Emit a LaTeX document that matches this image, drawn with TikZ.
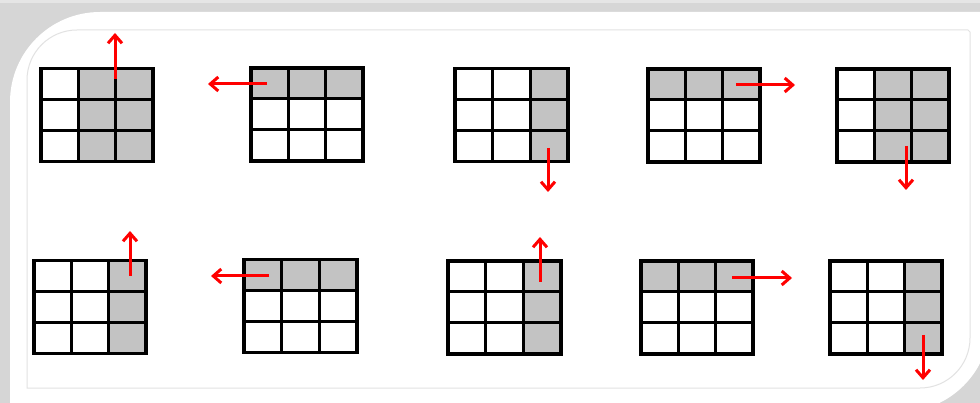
\documentclass[tikz,border=0pt]{standalone}
\usepackage{xcolor}
\usepackage{tikz}
\usetikzlibrary{
  arrows.meta,
  calc
}

\definecolor{cellgrey}{RGB}{195,195,195}
\definecolor{shadowgrey}{RGB}{214,214,214}
\definecolor{shadowlight}{RGB}{229,229,229}
\definecolor{frameline}{RGB}{226,226,226}

% 3x3 grid: name, centre, grey cells (col/row)
\newcommand{\cellgrid}[3]{%
  \coordinate (#1) at (#2);
  \foreach \ci/\ri in {#3}
    \fill[cellfill] ($(#1)+(\ci*37.5-93.75,\ri*31-77.5)$) rectangle +(37.5,31);
  \foreach \k in {1,2}{
    \draw[gridline] ($(#1)+(\k*37.5-56.25,-46.5)$) -- +(0,93);
    \draw[gridline] ($(#1)+(-56.25,\k*31-46.5)$) -- +(112.5,0);
  }
  \node[gridbox] (#1box) at (#1) {};
}

\begin{document}
\begin{tikzpicture}[
  x=1pt, y=-1pt,
  gridbox/.style={
    rectangle,
    draw=black,
    line width=3.6pt,
    minimum width=112.5pt,
    minimum height=93pt,
    inner sep=0pt,
    outer sep=0pt
  },
  gridline/.style={
    draw=black,
    line width=3pt
  },
  cellfill/.style={
    fill=cellgrey
  },
  redarrow/.style={
    -{Straight Barb[length=8pt,width=14pt]},
    line width=3pt,
    draw=red
  }
]

\useasboundingbox (0,0) rectangle (980,403);
\clip (0,0) rectangle (980,403);

% shadow and panel
\fill[shadowgrey] (0,0) rectangle (980,403);
\fill[shadowlight] (0,0) rectangle (980,3);
\fill[white] (10,412) -- (10,102) arc[start angle=180, end angle=270, radius=90]
  -- (990,12) -- (990,322) arc[start angle=0, end angle=90, radius=90] -- cycle;
\draw[frameline, line width=1pt] (27,388) -- (27,80) arc[start angle=180, end angle=270, radius=50]
  -- (968,30) -- (970,32) -- (970,338) arc[start angle=0, end angle=90, radius=50] -- cycle;

% top row
\cellgrid{g1}{97,115}{2/1,3/1,2/2,3/2,2/3,3/3}
\cellgrid{g2}{307,114.5}{1/1,2/1,3/1}
\cellgrid{g3}{511.5,115}{3/1,3/2,3/3}
\cellgrid{g4}{704,115.5}{1/1,2/1,3/1}
\cellgrid{g5}{893,115.5}{2/1,3/1,2/2,3/2,2/3,3/3}

% bottom row
\cellgrid{g6}{90,307}{3/1,3/2,3/3}
\cellgrid{g7}{300.5,306}{1/1,2/1,3/1}
\cellgrid{g8}{504.5,307.5}{3/1,3/2,3/3}
\cellgrid{g9}{697,307.5}{1/1,2/1,3/1}
\cellgrid{g10}{886,307.5}{3/1,3/2,3/3}

% arrow ends
\coordinate (a1s) at (115,79);  \coordinate (a1e) at (115,33);
\coordinate (a2s) at (267,84);  \coordinate (a2e) at (208,84);
\coordinate (a3s) at (548,148); \coordinate (a3e) at (548,192);
\coordinate (a4s) at (736,85);  \coordinate (a4e) at (795,85);
\coordinate (a5s) at (906,146); \coordinate (a5e) at (906,190);
\coordinate (a6s) at (130,276); \coordinate (a6e) at (130,231);
\coordinate (a7s) at (269,276); \coordinate (a7e) at (211,276);
\coordinate (a8s) at (540,282); \coordinate (a8e) at (540,237);
\coordinate (a9s) at (732,278); \coordinate (a9e) at (792,278);
\coordinate (a10s) at (923,335); \coordinate (a10e) at (923,380);

\foreach \n in {1,...,10}
  \draw[redarrow] (a\n s) -- (a\n e);

\end{tikzpicture}
\end{document}
